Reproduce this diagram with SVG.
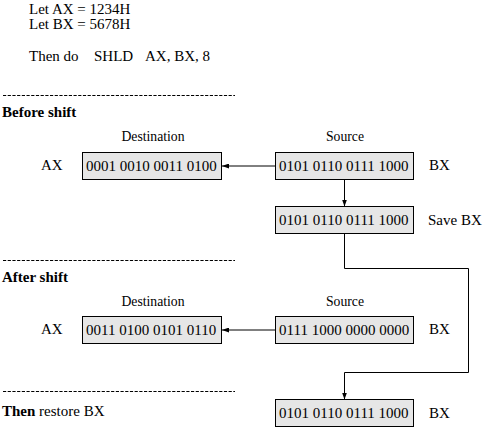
<svg xmlns="http://www.w3.org/2000/svg" width="485" height="427" viewBox="0 0 485 427">
<style>
text{font-family:"Liberation Serif","Times New Roman",serif;font-size:15px;fill:#000}
.b{font-weight:bold}
.lab{font-size:13.7px;text-anchor:middle}
.box rect{fill:#e6e6e6;stroke:#000;stroke-width:1}
.dash{stroke:#000;stroke-width:1;stroke-dasharray:3.2 1.5}
.conn{fill:none;stroke:#000;stroke-width:1}
</style>
<defs>
<marker id="ah" markerWidth="7" markerHeight="5" refX="7" refY="2.5" orient="auto" markerUnits="userSpaceOnUse">
<path d="M0,0 L7,2.5 L0,5 z" fill="#000"/>
</marker>
</defs>
<rect width="485" height="427" fill="#fff"/>
<g id="header">
<text x="29" y="13.5">Let AX = 1234H</text>
<text x="29" y="29">Let BX = 5678H</text>
<text x="29" y="61">Then do</text>
<text x="94" y="61">SHLD</text>
<text x="145" y="61">AX, BX, 8</text>
</g>
<g id="separators">
<line class="dash" x1="3" y1="95.5" x2="235" y2="95.5"/>
<line class="dash" x1="3" y1="260.5" x2="235" y2="260.5"/>
<line class="dash" x1="3" y1="391.5" x2="235" y2="391.5"/>
</g>
<g id="headings">
<text class="b" x="2" y="117">Before shift</text>
<text class="b" x="2" y="282">After shift</text>
<text x="2" y="415.5"><tspan class="b">Then</tspan> restore BX</text>
</g>
<g id="labels">
<text class="lab" x="153" y="140.5">Destination</text>
<text class="lab" x="345" y="140.5">Source</text>
<text x="41" y="169.5">AX</text>
<text x="429" y="169.5">BX</text>
<text x="428" y="224.5">Save BX</text>
<text class="lab" x="153" y="306">Destination</text>
<text class="lab" x="345" y="306">Source</text>
<text x="41" y="334">AX</text>
<text x="429" y="334">BX</text>
<text x="429" y="417.5">BX</text>
</g>
<g id="ax-before" class="box">
<rect x="82.5" y="152.5" width="139" height="27"/>
<text x="86" y="170.5">0001 0010 0011 0100</text>
</g>
<g id="bx-before" class="box">
<rect x="275.5" y="152.5" width="138" height="27"/>
<text x="279" y="170.5">0101 0110 0111 1000</text>
</g>
<g id="save-bx" class="box">
<rect x="275.5" y="206.5" width="138" height="27"/>
<text x="279" y="224.5">0101 0110 0111 1000</text>
</g>
<g id="ax-after" class="box">
<rect x="82.5" y="316.5" width="139" height="27"/>
<text x="86" y="334.5">0011 0100 0101 0110</text>
</g>
<g id="bx-after" class="box">
<rect x="275.5" y="316.5" width="138" height="27"/>
<text x="279" y="334.5">0111 1000 0000 0000</text>
</g>
<g id="bx-restored" class="box">
<rect x="275.5" y="399.5" width="138" height="27"/>
<text x="279" y="417.5">0101 0110 0111 1000</text>
</g>
<g id="connectors">
<line class="conn" x1="275.5" y1="166" x2="222" y2="166" marker-end="url(#ah)"/>
<line class="conn" x1="344.5" y1="179.5" x2="344.5" y2="206.5" marker-end="url(#ah)"/>
<line class="conn" x1="275.5" y1="330" x2="222" y2="330" marker-end="url(#ah)"/>
<polyline class="conn" points="344.5,233.5 344.5,268.5 468.5,268.5 468.5,372.5 344.5,372.5 344.5,399.5" marker-end="url(#ah)"/>
</g>
</svg>
